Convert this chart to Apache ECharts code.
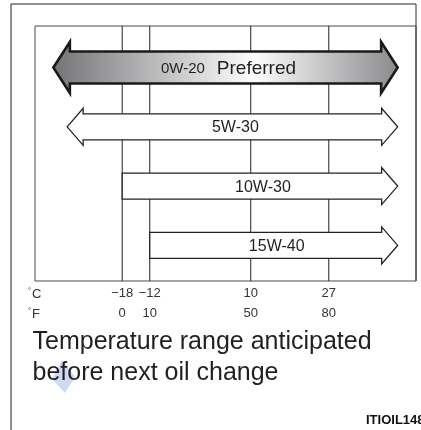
<!DOCTYPE html>
<html>
<head>
<meta charset="utf-8">
<script src="https://cdn.jsdelivr.net/npm/echarts@6/dist/echarts.min.js"></script>
<style>
  html, body { margin: 0; padding: 0; background: #fff; }
  #chart { width: 421px; height: 430px; }
</style>
</head>
<body>
<div id="chart"></div>
<script>
// Oil grades and the temperature range (°C) each one covers
const grades = ['0W-20', '5W-30', '10W-30', '15W-40'];
const lowC = [-33, -30, -18, -12];     // lower end of each range
const highC = [42, 42, 42, 42];        // upper end of each range
const openLow = [true, true, false, false]; // range continues below its lower end
const preferred = [true, false, false, false];

// Reference temperatures on the scale
const tickC = [-18, -12, 10, 27];
const tickF = [0, 10, 50, 80];

const FONT = '"Liberation Sans", Arial, Helvetica, sans-serif';
const INK = '#231f20';

// Full-height vertical rule at each reference temperature
function renderRule(params, api) {
  const cs = params.coordSys;
  const x = api.coord([api.value(0), 1])[0];
  return {
    type: 'line',
    shape: { x1: x, y1: cs.y, x2: x, y2: cs.y + cs.height },
    style: { stroke: '#222', lineWidth: 1 }
  };
}

function renderArrow(params, api) {
  const i = params.dataIndex;
  const row = api.value(0);
  const a = api.coord([api.value(1), row]);
  const b = api.coord([api.value(2), row]);
  const x0 = a[0], x1 = b[0], c = a[1];
  const pref = preferred[i];
  const h = pref ? 16 : 13;      // half shaft height
  const H = pref ? 25.5 : 18.5;  // half head height
  const L = pref ? 16.5 : 16;    // head length

  let pts;
  if (openLow[i]) {
    pts = [[x0, c], [x0 + L, c - H], [x0 + L, c - h], [x1 - L, c - h], [x1 - L, c - H],
           [x1, c], [x1 - L, c + H], [x1 - L, c + h], [x0 + L, c + h], [x0 + L, c + H]];
  } else {
    pts = [[x0, c - h], [x1 - L, c - h], [x1 - L, c - H], [x1, c],
           [x1 - L, c + H], [x1 - L, c + h], [x0, c + h]];
  }

  const fill = pref
    ? new echarts.graphic.LinearGradient(0, 0, 1, 0, [
        { offset: 0, color: '#747477' },
        { offset: 0.58, color: '#fdfdfd' },
        { offset: 1, color: '#8a8a8d' }
      ])
    : '#ffffff';

  const label = pref
    ? {
        text: '{a|' + grades[i] + '}{b|Preferred}',
        rich: {
          a: { fontSize: 15, fontFamily: FONT, fill: INK },
          b: { fontSize: 19, fontFamily: FONT, fill: INK, padding: [0, 0, 0, 12] }
        }
      }
    : { text: grades[i], fontSize: 16, fontFamily: FONT, fill: INK };

  return {
    type: 'group',
    children: [
      {
        type: 'polygon',
        shape: { points: pts },
        style: { fill: fill, stroke: pref ? '#1a1a1a' : '#222', lineWidth: pref ? 2.6 : 1.3, lineJoin: 'miter' }
      },
      {
        type: 'text',
        style: Object.assign({
          x: (x0 + x1) / 2 + 3,
          y: c + 1,
          align: 'center',
          verticalAlign: 'middle'
        }, label)
      }
    ]
  };
}

const axisLabelBase = {
  customValues: tickC,
  margin: 6,
  fontSize: 13,
  color: '#333',
  fontFamily: FONT
};

const option = {
  animation: false,
  grid: {
    left: 35, right: 5, top: 26, bottom: 149,
    show: true, borderColor: '#4a4a4a', borderWidth: 1
  },
  xAxis: [
    {
      type: 'value', min: -37, max: 46, position: 'bottom',
      axisLine: { show: false }, axisTick: { show: false }, splitLine: { show: false },
      axisLabel: Object.assign({}, axisLabelBase, {
        formatter: v => String(v).replace('-', '\u2212')
      })
    },
    {
      type: 'value', min: -37, max: 46, position: 'bottom', offset: 20,
      axisLine: { show: false }, axisTick: { show: false }, splitLine: { show: false },
      axisLabel: Object.assign({}, axisLabelBase, {
        formatter: v => String(tickF[tickC.indexOf(v)])
      })
    }
  ],
  yAxis: { type: 'value', min: 0.3, max: 4.6, inverse: true, show: false },
  series: [
    {
      type: 'custom',
      z: 1,
      silent: true,
      renderItem: renderRule,
      encode: { x: 0 },
      data: tickC.map(v => [v])
    },
    {
      type: 'custom',
      z: 3,
      renderItem: renderArrow,
      encode: { x: [1, 2], y: 0 },
      data: grades.map((g, i) => [i + 1, lowC[i], highC[i]])
    }
  ],
  graphic: [
    // outer frame
    { type: 'line', z: 10, shape: { x1: 11, y1: 4, x2: 11, y2: 430 }, style: { stroke: '#222', lineWidth: 1 } },
    { type: 'line', z: 10, shape: { x1: 11, y1: 4, x2: 416, y2: 4 }, style: { stroke: '#222', lineWidth: 1 } },
    { type: 'line', z: 10, shape: { x1: 416, y1: 4, x2: 416, y2: 281 }, style: { stroke: '#333', lineWidth: 1 } },
    // unit captions for the two label rows
    { type: 'text', z: 10, x: 28, y: 291, style: { text: '°', fontSize: 8, fontFamily: FONT, fill: '#333', verticalAlign: 'middle' } },
    { type: 'text', z: 10, x: 32, y: 294, style: { text: 'C', fontSize: 13, fontFamily: FONT, fill: '#333', verticalAlign: 'middle' } },
    { type: 'text', z: 10, x: 28, y: 311, style: { text: '°', fontSize: 8, fontFamily: FONT, fill: '#333', verticalAlign: 'middle' } },
    { type: 'text', z: 10, x: 32, y: 314, style: { text: 'F', fontSize: 13, fontFamily: FONT, fill: '#333', verticalAlign: 'middle' } },
    // soft blue marker behind the caption
    { type: 'polygon', z: 9, shape: { points: [[62, 360], [75, 377], [65, 393], [52, 379]] }, style: { fill: 'rgba(160,180,232,0.5)' } },
    // caption
    { type: 'text', z: 10, x: 32.5, y: 342, style: { text: 'Temperature range anticipated', fontSize: 25, fontFamily: FONT, fill: INK, verticalAlign: 'middle' } },
    { type: 'text', z: 10, x: 32.5, y: 373, style: { text: 'before next oil change', fontSize: 25, fontFamily: FONT, fill: INK, verticalAlign: 'middle' } },
    // figure code
    { type: 'text', z: 10, x: 366, y: 420, style: { text: 'ITIOIL148', fontSize: 13, fontWeight: 'bold', fontFamily: FONT, fill: '#111', verticalAlign: 'middle' } }
  ]
};

const chart = echarts.init(document.getElementById('chart'), null, { renderer: 'canvas' });
chart.setOption(option);
</script>
</body>
</html>
